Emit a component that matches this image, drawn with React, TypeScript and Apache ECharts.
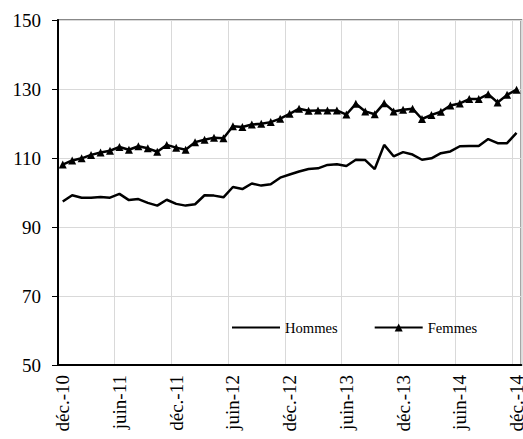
import { useEffect, useRef } from 'react';
import * as echarts from 'echarts';

// mois (libellés de l'axe), de déc.-10 à déc.-14
const moisNoms = ['janv.', 'févr.', 'mars', 'avr.', 'mai', 'juin', 'juil.', 'août', 'sept.', 'oct.', 'nov.', 'déc.'];
const annees = ['11', '12', '13', '14'];

const categories: string[] = ['déc.-10'];
annees.forEach((a) => moisNoms.forEach((m) => categories.push(`${m}-${a}`)));

const hommes = [
  97.4, 99.2, 98.5, 98.5, 98.7, 98.5, 99.6, 97.8, 98.1, 97.0, 96.2, 97.9,
  96.7, 96.2, 96.6, 99.2, 99.1, 98.6, 101.6, 101.0, 102.6, 102.0, 102.4, 104.3,
  105.2, 106.1, 106.8, 107.0, 108.0, 108.2, 107.7, 109.5, 109.4, 106.8, 113.8, 110.5,
  111.7, 111.0, 109.5, 109.9, 111.4, 111.9, 113.4, 113.5, 113.5, 115.5, 114.3, 114.3,
  117.3,
];

const femmes = [
  108.1, 109.3, 109.9, 110.9, 111.6, 112.1, 113.2, 112.4, 113.4, 112.8, 111.8, 113.8,
  113.0, 112.4, 114.6, 115.3, 115.9, 115.7, 119.2, 119.0, 119.7, 119.9, 120.4, 121.4,
  122.8, 124.3, 123.7, 123.8, 123.8, 123.8, 122.6, 125.7, 123.5, 122.7, 125.9, 123.5,
  124.0, 124.3, 121.3, 122.5, 123.4, 125.2, 125.8, 127.1, 127.1, 128.5, 126.1, 128.3,
  129.8,
];

const FONT = "'Liberation Serif', 'Times New Roman', serif";

export default function App() {
  const ref = useRef<HTMLDivElement>(null);

  useEffect(() => {
    if (!ref.current) return;
    document.body.style.overflow = 'hidden';
    const chart = echarts.init(ref.current, undefined, { renderer: 'svg' });

    const lbl = { fontFamily: FONT, fontSize: 19, color: '#000' };

    chart.setOption({
      animation: false,
      textStyle: { fontFamily: FONT, color: '#000' },
      grid: {
        left: 58,
        right: 1,
        top: 20,
        bottom: 74,
        show: true,
        borderColor: '#888',
        borderWidth: 2,
      },
      legend: {
        left: 231,
        top: 320,
        padding: 0,
        itemWidth: 48,
        itemHeight: 10,
        itemGap: 36,
        textStyle: { fontFamily: FONT, fontSize: 14.6, color: '#000' },
        data: [
          { name: 'Hommes', itemStyle: { color: 'rgba(0,0,0,0)', borderWidth: 0 } },
          'Femmes',
        ],
      },
      xAxis: {
        type: 'category',
        data: categories,
        boundaryGap: true,
        axisLine: { lineStyle: { color: '#000', width: 2 } },
        axisTick: { interval: 5, length: 6, lineStyle: { color: '#000' } },
        splitLine: { show: true, interval: 5, lineStyle: { color: '#d9d9d9', width: 1 } },
        axisLabel: { ...lbl, interval: 5, rotate: 90, margin: 10 },
      },
      yAxis: {
        type: 'value',
        min: 50,
        max: 150,
        interval: 20,
        axisLine: { show: true, lineStyle: { color: '#000', width: 2 } },
        axisTick: { show: true, length: 6, lineStyle: { color: '#000' } },
        splitLine: { lineStyle: { color: '#d9d9d9', width: 1 } },
        axisLabel: { ...lbl, margin: 17 },
      },
      series: [
        {
          name: 'Hommes',
          type: 'line',
          data: hommes,
          symbol: 'none',
          lineStyle: { color: '#000', width: 2.5 },
          itemStyle: { color: '#000' },
        },
        {
          name: 'Femmes',
          type: 'line',
          data: femmes,
          symbol: 'triangle',
          symbolSize: 8,
          showAllSymbol: true,
          lineStyle: { color: '#000', width: 2.5 },
          itemStyle: { color: '#000' },
        },
      ],
    });

    return () => chart.dispose();
  }, []);

  return (
    <div
      ref={ref}
      style={{ position: 'fixed', left: 0, top: 0, width: 526, height: 439, background: '#fff' }}
    />
  );
}
